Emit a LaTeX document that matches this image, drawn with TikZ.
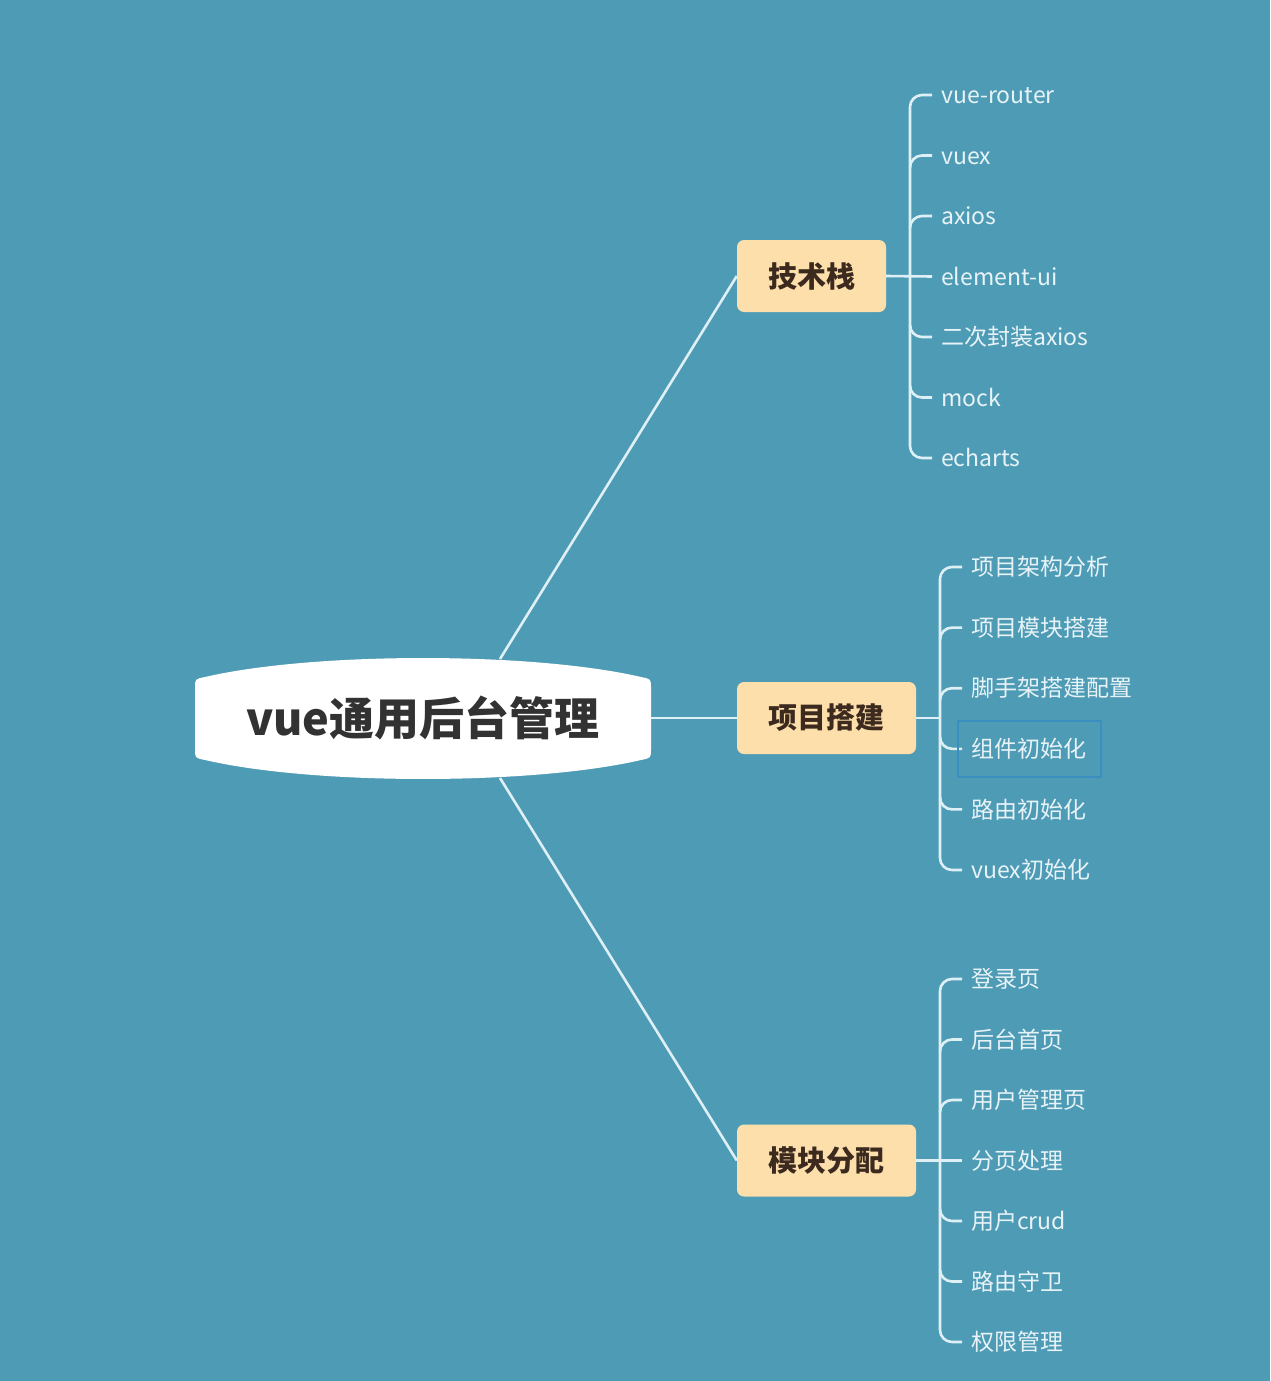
\documentclass[tikz,border=0pt]{standalone}
\usepackage{fontspec}
\setmainfont{Noto Sans CJK SC}
\usetikzlibrary{calc}
\definecolor{bgc}{RGB}{78,155,182}
\definecolor{peach}{RGB}{253,223,172}
\definecolor{linec}{RGB}{222,239,246}
\definecolor{leaftext}{RGB}{232,243,247}
\definecolor{branchtext}{RGB}{60,42,30}
\definecolor{roottext}{RGB}{50,50,50}
\definecolor{hlbox}{RGB}{58,142,192}
\begin{document}
\begin{tikzpicture}[x=1pt,y=-1pt,
  conn/.style={draw=linec,line width=2.6pt},
  tick/.style={draw=linec,line width=2.6pt,rounded corners=12pt},
  branch/.style={fill=peach,rounded corners=7pt,minimum height=72pt,inner xsep=0pt,
    text=branchtext,font=\fontsize{29}{32}\selectfont\bfseries},
  leaf/.style={anchor=west,inner xsep=9pt,inner ysep=0pt,text=leaftext,
    font=\fontsize{23}{27}\selectfont,text height=20.2pt,text depth=2.8pt},
  rootnode/.style={inner sep=0pt,text=roottext,font=\fontsize{45}{50}\selectfont\bfseries,
    text height=39.6pt,text depth=5.4pt}]
\useasboundingbox (0,0) rectangle (1270,1381);
\fill[bgc] (0,0) rectangle (1270,1381);

% root
\fill[white] (195,688) .. controls (195,679) .. (205,677)
  .. controls (314,651.7) and (532,651.7) .. (641,677)
  .. controls (651,679) .. (651,688) -- (651,749)
  .. controls (651,758) .. (641,760)
  .. controls (532,785.3) and (314,785.3) .. (205,760)
  .. controls (195,758) .. (195,749) -- cycle;
\node[rootnode] (root) at (423,718) {vue通用后台管理};
\coordinate (rt) at (500,659);
\coordinate (rb) at (500,778);
\coordinate (rr) at (651,718);

% branches
\node[branch,minimum width=149pt] (b1) at (811.5,276) {技术栈};
\node[branch,minimum width=179pt] (b2) at (826.5,718) {项目搭建};
\node[branch,minimum width=179pt] (b3) at (826.5,1160.5) {模块分配};

\draw[conn] (rt) -- (b1.west);
\draw[conn] (rr) -- (b2.west);
\draw[conn] (rb) -- (b3.west);

% group 1
\foreach \t [count=\i] in {vue-router,vuex,axios,element-ui,二次封装axios,mock,echarts}
  \node[leaf] (a\i) at (932,{95+(\i-1)*60.5}) {\t};
\draw[tick] (a1.west) -| (910,277) |- (a7.west);
\foreach \i in {2,3} \draw[tick] ($(a\i.west)+(-22,12)$) |- (a\i.west);
\foreach \i in {5,6} \draw[tick] ($(a\i.west)+(-22,-12)$) |- (a\i.west);
\draw[conn] (b1.east) -- (a4.west);

% group 2
\foreach \t [count=\i] in {项目架构分析,项目模块搭建,脚手架搭建配置,组件初始化,路由初始化,vuex初始化}
  \node[leaf] (p\i) at (962,{567+(\i-1)*60.6}) {\t};
\draw[tick] (p1.west) -| (940,718) |- (p6.west);
\foreach \i in {2,3} \draw[tick] ($(p\i.west)+(-22,12)$) |- (p\i.west);
\foreach \i in {4,5} \draw[tick] ($(p\i.west)+(-22,-12)$) |- (p\i.west);
\coordinate (pj) at (940,718);
\draw[conn] (b2.east) -- (pj);
\draw[hlbox,line width=2pt] (958,721) rectangle (1101,777);

% group 3
\foreach \t [count=\i] in {登录页,后台首页,用户管理页,分页处理,用户crud,路由守卫,权限管理}
  \node[leaf] (m\i) at (962,{979+(\i-1)*60.5}) {\t};
\draw[tick] (m1.west) -| (940,1160) |- (m7.west);
\foreach \i in {2,3} \draw[tick] ($(m\i.west)+(-22,12)$) |- (m\i.west);
\foreach \i in {5,6} \draw[tick] ($(m\i.west)+(-22,-12)$) |- (m\i.west);
\draw[conn] (b3.east) -- (m4.west);
\end{tikzpicture}
\end{document}
